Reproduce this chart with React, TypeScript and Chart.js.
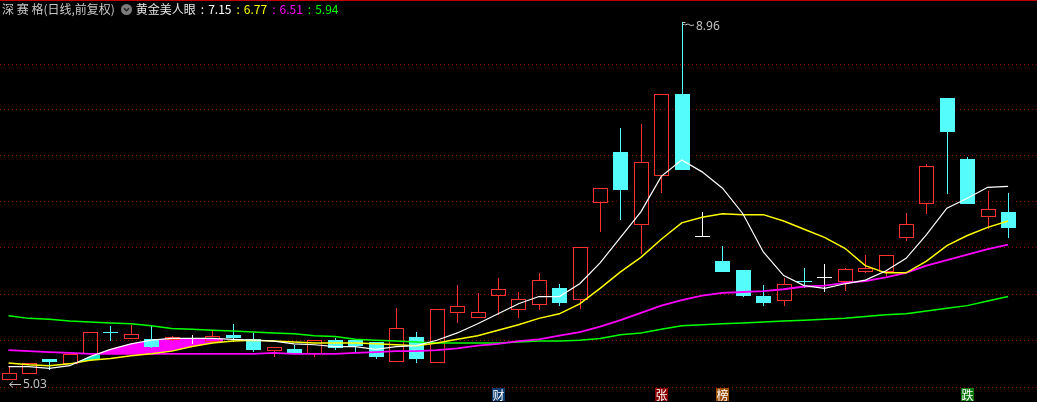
import React, { useEffect, useRef } from 'react';
import { Chart, registerables } from 'chart.js';

Chart.register(...registerables);

// ---- data ----
const opens = [5.03, 5.10, 5.25, 5.21, 5.32, 5.55, 5.48, 5.47, 5.47, 5.48, 5.45, 5.52, 5.47, 5.35, 5.36, 5.32, 5.46, 5.46, 5.44, 5.23, 5.50, 5.22, 5.77, 5.72, 5.96, 5.80, 5.86, 6.03, 5.91, 6.98, 7.53, 6.74, 7.28, 8.17, 6.61, 6.33, 6.23, 5.95, 5.90, 6.11, 6.15, 6.11, 6.22, 6.22, 6.59, 6.97, 8.12, 7.45, 6.83, 6.87];
const highs = [5.17, 5.21, 5.25, 5.31, 5.55, 5.62, 5.63, 5.62, 5.51, 5.52, 5.56, 5.64, 5.54, 5.39, 5.41, 5.46, 5.48, 5.46, 5.44, 5.81, 5.55, 5.80, 6.07, 5.98, 6.14, 5.99, 6.20, 6.08, 6.48, 7.13, 7.79, 7.84, 8.17, 8.96, 6.87, 6.50, 6.23, 6.07, 6.14, 6.25, 6.30, 6.25, 6.40, 6.40, 6.86, 7.40, 8.12, 7.47, 7.10, 7.08];
const lows = [5.03, 5.10, 5.14, 5.21, 5.32, 5.46, 5.48, 5.39, 5.46, 5.43, 5.45, 5.45, 5.34, 5.29, 5.33, 5.29, 5.36, 5.33, 5.27, 5.23, 5.22, 5.22, 5.66, 5.72, 5.75, 5.72, 5.80, 5.85, 5.81, 6.66, 6.79, 6.42, 7.09, 7.34, 6.61, 6.22, 5.95, 5.85, 5.85, 6.05, 6.00, 6.01, 6.21, 6.18, 6.56, 6.86, 7.08, 6.97, 6.69, 6.59];
const closes = [5.10, 5.21, 5.23, 5.31, 5.55, 5.54, 5.53, 5.40, 5.50, 5.48, 5.51, 5.50, 5.36, 5.39, 5.33, 5.46, 5.39, 5.41, 5.29, 5.59, 5.26, 5.80, 5.84, 5.77, 6.02, 5.91, 6.12, 5.88, 6.48, 7.13, 7.12, 7.42, 8.17, 7.34, 6.61, 6.22, 5.96, 5.88, 6.08, 6.10, 6.15, 6.24, 6.25, 6.40, 6.74, 7.37, 7.76, 6.97, 6.90, 6.70];

const ma5 = [5.17, 5.17, 5.15, 5.18, 5.28, 5.36, 5.42, 5.46, 5.48, 5.48, 5.48, 5.47, 5.46, 5.45, 5.42, 5.41, 5.39, 5.39, 5.36, 5.39, 5.40, 5.46, 5.54, 5.64, 5.75, 5.86, 5.94, 5.94, 6.08, 6.31, 6.59, 6.87, 7.26, 7.44, 7.31, 7.13, 6.85, 6.43, 6.17, 6.06, 6.03, 6.08, 6.12, 6.22, 6.36, 6.62, 6.91, 7.02, 7.14, 7.15];
const ma10 = [5.21, 5.19, 5.18, 5.20, 5.24, 5.26, 5.29, 5.31, 5.34, 5.39, 5.43, 5.45, 5.46, 5.45, 5.44, 5.43, 5.43, 5.43, 5.42, 5.41, 5.40, 5.43, 5.47, 5.51, 5.57, 5.63, 5.70, 5.75, 5.86, 6.03, 6.21, 6.37, 6.57, 6.75, 6.81, 6.85, 6.84, 6.84, 6.77, 6.68, 6.59, 6.47, 6.28, 6.20, 6.20, 6.33, 6.50, 6.61, 6.70, 6.77];
const ma20 = [5.35, 5.34, 5.33, 5.32, 5.31, 5.31, 5.31, 5.31, 5.31, 5.31, 5.31, 5.31, 5.31, 5.32, 5.31, 5.31, 5.31, 5.32, 5.33, 5.34, 5.34, 5.35, 5.37, 5.40, 5.42, 5.45, 5.47, 5.51, 5.55, 5.61, 5.68, 5.76, 5.84, 5.90, 5.95, 5.98, 5.99, 6.00, 6.02, 6.05, 6.06, 6.09, 6.11, 6.15, 6.20, 6.28, 6.34, 6.40, 6.46, 6.51];
const ma60 = [5.73, 5.70, 5.69, 5.67, 5.66, 5.65, 5.64, 5.62, 5.59, 5.58, 5.57, 5.56, 5.55, 5.54, 5.53, 5.51, 5.50, 5.47, 5.46, 5.45, 5.44, 5.43, 5.43, 5.43, 5.43, 5.44, 5.45, 5.45, 5.46, 5.48, 5.52, 5.54, 5.58, 5.62, 5.63, 5.64, 5.65, 5.66, 5.67, 5.68, 5.69, 5.70, 5.72, 5.74, 5.75, 5.78, 5.81, 5.84, 5.89, 5.94];

// 0 none, 1 cyan band, 2 magenta band ("美人眼" area)
const eyeFill = [0, 0, 0, 0, 1, 2, 2, 2, 2, 2, 2];

const gridTicks = [8.50, 8.00, 7.49, 6.99, 6.48, 5.97, 5.46, 4.95];

const tagIndex = [24, 32, 35, 47];
const tagText = ['财', '张', '榜', '跌'];
const tagColor = ['#0b3a6e', '#8a0000', '#9a4c00', '#0a780a'];

const maNames = ['MA5', 'MA10', 'MA20', 'MA60'];
const maColors = ['#ffffff', '#ffff00', '#ff00ff', '#00ff00'];

const UP = '#ff3232';
const DOWN = '#54fcfc';
const GRID = '#940000';
const LABEL = '#c0c0c0';

export default function App() {
  const ref = useRef<HTMLCanvasElement>(null);

  useEffect(() => {
    document.body.style.margin = '0';
    document.body.style.background = '#000';

    const drawPlugin = {
      id: 'kline',
      beforeDatasetsDraw(chart: any) {
        const { ctx, chartArea, scales } = chart;
        const x = scales.x;
        const y = scales.y;
        const L = chartArea.left, R = chartArea.right, T = chartArea.top, B = chartArea.bottom;

        // top border
        ctx.save();
        ctx.fillStyle = '#c00000';
        ctx.fillRect(L, T, R - L, 1);
        // grid
        ctx.strokeStyle = GRID;
        ctx.lineWidth = 1;
        ctx.setLineDash([1, 3]);
        gridTicks.forEach((v) => {
          const py = Math.round(y.getPixelForValue(v)) + 0.5;
          ctx.beginPath();
          ctx.moveTo(L, py);
          ctx.lineTo(R, py);
          ctx.stroke();
        });
        ctx.restore();

        // eye fill
        const pts = (arr: number[]) => arr.map((v, i) => ({ x: x.getPixelForValue(i), y: y.getPixelForValue(v) }));
        const pW = pts(ma5), pY = pts(ma10), pM = pts(ma20);
        const above = (p: { x: number; y: number }[]) => {
          ctx.beginPath();
          ctx.moveTo(p[0].x - 50, T);
          ctx.lineTo(p[0].x - 50, p[0].y);
          p.forEach((q) => ctx.lineTo(q.x, q.y));
          ctx.lineTo(p[p.length - 1].x + 50, p[p.length - 1].y);
          ctx.lineTo(p[p.length - 1].x + 50, T);
          ctx.closePath();
        };
        const below = (p: { x: number; y: number }[]) => {
          ctx.beginPath();
          ctx.moveTo(p[0].x - 50, B);
          ctx.lineTo(p[0].x - 50, p[0].y);
          p.forEach((q) => ctx.lineTo(q.x, q.y));
          ctx.lineTo(p[p.length - 1].x + 50, p[p.length - 1].y);
          ctx.lineTo(p[p.length - 1].x + 50, B);
          ctx.closePath();
        };
        let i = 0;
        while (i < eyeFill.length) {
          const c = eyeFill[i];
          if (!c) { i++; continue; }
          let j = i;
          while (j + 1 < eyeFill.length && eyeFill[j + 1] === c) j++;
          const x0 = Math.round(x.getPixelForValue(i - 0.5));
          const x1 = Math.round(x.getPixelForValue(j + 0.5));
          ctx.save();
          ctx.beginPath();
          ctx.rect(x0, T, x1 - x0, B - T);
          ctx.clip();
          above(pY);
          ctx.clip();
          if (c === 2) {
            above(pM);
            ctx.clip();
            ctx.fillStyle = '#ff00ff';
          } else {
            ctx.fillStyle = '#14eec4';
          }
          below(pW);
          ctx.fill();
          ctx.restore();
          i = j + 1;
        }

        // candles
        ctx.save();
        ctx.lineWidth = 1;
        const half = 7;
        for (let k = 0; k < opens.length; k++) {
          const xc = Math.round(x.getPixelForValue(k));
          const o = opens[k], c = closes[k];
          const yo = Math.round(y.getPixelForValue(o));
          const yc = Math.round(y.getPixelForValue(c));
          const yh = Math.round(y.getPixelForValue(highs[k]));
          const yl = Math.round(y.getPixelForValue(lows[k]));
          const top = Math.min(yo, yc), bot = Math.max(yo, yc);
          if (c > o) {
            ctx.strokeStyle = UP;
            ctx.strokeRect(xc - half + 0.5, top + 0.5, half * 2, Math.max(bot - top, 1));
            ctx.beginPath();
            if (yh < top) { ctx.moveTo(xc + 0.5, yh); ctx.lineTo(xc + 0.5, top); }
            if (yl > bot) { ctx.moveTo(xc + 0.5, bot + 1); ctx.lineTo(xc + 0.5, yl + 1); }
            ctx.stroke();
          } else {
            const col = c === o ? '#ffffff' : DOWN;
            ctx.strokeStyle = col;
            ctx.fillStyle = col;
            ctx.beginPath();
            ctx.moveTo(xc + 0.5, yh);
            ctx.lineTo(xc + 0.5, yl + 1);
            ctx.stroke();
            if (bot - top >= 2) {
              ctx.fillRect(xc - half, top, half * 2 + 1, bot - top + 1);
            } else {
              ctx.fillRect(xc - half, top, half * 2 + 1, 1);
            }
          }
        }
        ctx.restore();
      },
      afterDatasetsDraw(chart: any) {
        const { ctx, chartArea, scales } = chart;
        const x = scales.x;
        const y = scales.y;
        ctx.save();
        ctx.font = '12px "DejaVu Sans", "Noto Sans", sans-serif';
        ctx.fillStyle = LABEL;
        ctx.strokeStyle = LABEL;
        ctx.lineWidth = 1;
        ctx.textBaseline = 'middle';
        // highest
        let hi = 0, lo = 0;
        highs.forEach((v, k) => { if (v > highs[hi]) hi = k; });
        lows.forEach((v, k) => { if (v < lows[lo]) lo = k; });
        const hx = Math.round(x.getPixelForValue(hi));
        const hy = Math.round(y.getPixelForValue(highs[hi]));
        ctx.beginPath();
        ctx.moveTo(hx + 0.5, hy + 0.5);
        ctx.lineTo(hx + 3.5, hy + 0.5);
        ctx.moveTo(hx + 0.5, hy + 2.5);
        ctx.lineTo(hx + 2.5, hy + 2.5);
        ctx.moveTo(hx + 3, hy + 3);
        ctx.lineTo(hx + 6, hy + 2);
        ctx.lineTo(hx + 9, hy + 3.5);
        ctx.lineTo(hx + 12, hy + 3);
        ctx.stroke();
        ctx.font = '12px "Noto Sans", sans-serif';
        ctx.fillText(highs[hi].toFixed(2), hx + 14, hy + 5);
        // lowest
        const lx = Math.round(x.getPixelForValue(lo));
        const ly = Math.round(y.getPixelForValue(lows[lo])) + 5;
        ctx.beginPath();
        ctx.moveTo(lx + 0.5, ly + 0.5);
        ctx.lineTo(lx + 12, ly + 0.5);
        ctx.moveTo(lx + 4, ly - 2.5);
        ctx.lineTo(lx + 0.5, ly + 0.5);
        ctx.lineTo(lx + 4, ly + 3.5);
        ctx.stroke();
        ctx.fillText(lows[lo].toFixed(2), lx + 14, ly + 1);

        // bottom tags
        ctx.font = '12px "Noto Sans CJK SC", sans-serif';
        ctx.textAlign = 'center';
        tagIndex.forEach((k, n) => {
          const tx = Math.round(x.getPixelForValue(k));
          const ty = chartArea.bottom - 14;
          ctx.fillStyle = tagColor[n];
          ctx.fillRect(tx - 6, ty, 13, 13);
          ctx.fillStyle = '#ffffff';
          ctx.fillText(tagText[n], tx + 0.5, ty + 7);
        });
        ctx.restore();
      },
    };

    const mas = [ma5, ma10, ma20, ma60];
    const widths = [1.2, 1.5, 1.8, 1.5];
    const chart = new Chart(ref.current as HTMLCanvasElement, {
      type: 'line',
      data: {
        datasets: mas.map((arr, n) => ({
          label: maNames[n],
          data: arr.map((v, i) => ({ x: i, y: v })),
          borderColor: maColors[n],
          borderWidth: widths[n],
          pointRadius: 0,
          fill: false,
          tension: 0,
        })),
      },
      options: {
        responsive: false,
        maintainAspectRatio: false,
        animation: false,
        events: [],
        layout: { padding: 0 },
        plugins: { legend: { display: false }, tooltip: { enabled: false } },
        scales: {
          x: { type: 'linear', min: -0.4167, max: 50.417, display: false },
          y: { type: 'linear', min: 4.781, max: 9.1985, display: false },
        },
      },
      plugins: [drawPlugin],
    } as any);
    return () => chart.destroy();
  }, []);

  const lastVals = [ma5, ma10, ma20, ma60].map((a) => a[a.length - 1].toFixed(2));

  return (
    <div style={{ position: 'fixed', left: 0, top: 0, width: 1037, height: 402, background: '#000', overflow: 'hidden' }}>
      <canvas ref={ref} width={1037} height={402} style={{ display: 'block' }} />
      <div
        style={{
          position: 'absolute',
          left: 2,
          top: 2,
          display: 'flex',
          alignItems: 'center',
          whiteSpace: 'nowrap',
          font: '12px "Noto Sans CJK SC", "Noto Sans", sans-serif',
          lineHeight: '14px',
          color: '#c8c8c8',
        }}
      >
        <span>深 赛 格(日线,前复权)</span>
        <svg width="11" height="11" style={{ marginLeft: 6, marginRight: 4 }}>
          <circle cx="5.5" cy="5.5" r="5.5" fill="#7c7c7c" />
          <path d="M3 4.3 L5.5 6.8 L8 4.3" stroke="#202020" strokeWidth="1.5" fill="none" />
        </svg>
        <span style={{ color: '#e6e6e6' }}>黄金美人眼</span>
        {lastVals.map((v, n) => (
          <span key={n} style={{ color: maColors[n], marginLeft: 5 }}>
            :<span style={{ marginLeft: 4 }}>{v}</span>
          </span>
        ))}
      </div>
    </div>
  );
}
